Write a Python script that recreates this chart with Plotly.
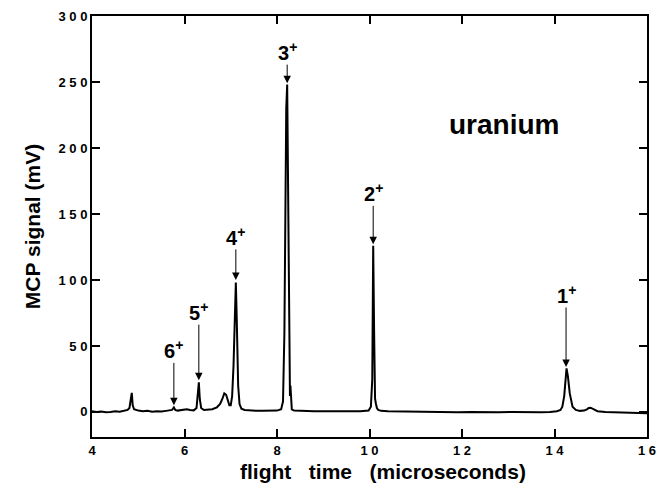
import plotly.graph_objects as go

# flight time (microseconds) and MCP signal (mV)
time_us = [4.00, 4.10, 4.20, 4.30, 4.40, 4.50, 4.60, 4.70, 4.77, 4.81, 4.84, 4.86, 4.88, 4.91,
           5.00, 5.10, 5.20, 5.30, 5.40, 5.50, 5.60, 5.68, 5.73, 5.77, 5.80, 5.85, 5.95, 6.05,
           6.12, 6.20, 6.26, 6.29, 6.31, 6.33, 6.36, 6.42, 6.50, 6.60, 6.70, 6.77, 6.82, 6.86,
           6.90, 6.94, 6.97, 7.00, 7.03, 7.06, 7.09, 7.11, 7.13, 7.16, 7.19, 7.23, 7.30, 7.40,
           7.55, 7.70, 7.85, 8.00, 8.09, 8.13, 8.16, 8.18, 8.20, 8.22, 8.24, 8.26, 8.28, 8.29,
           8.30, 8.32, 8.37, 8.47, 8.60, 8.80, 9.00, 9.20, 9.40, 9.60, 9.80, 9.98, 10.03, 10.06,
           10.08, 10.10, 10.12, 10.14, 10.16, 10.19, 10.25, 10.40, 10.70, 11.00, 11.30, 11.60,
           11.90, 12.20, 12.50, 12.80, 13.10, 13.40, 13.70, 13.90, 14.05, 14.13, 14.17, 14.21,
           14.24, 14.26, 14.29, 14.33, 14.39, 14.46, 14.55, 14.64, 14.70, 14.74, 14.78, 14.84,
           14.93, 15.10, 15.30, 15.50, 15.70, 15.90, 16.00]
signal_mv = [0.5, 0.0, 0.3, -0.3, 0.0, 0.5, 0.2, 1.0, 1.5, 3.0, 10.0, 14.5, 5.0, 2.0,
             1.0, 0.5, 0.8, 0.2, 0.5, 0.3, 0.8, 1.0, 1.5, 3.5, 1.5, 1.0, 1.5, 2.0,
             1.5, 1.2, 3.0, 12.0, 22.5, 10.0, 3.0, 1.5, 1.5, 2.0, 3.5, 6.0, 10.0, 14.0,
             13.0, 8.0, 5.0, 5.0, 12.0, 35.0, 80.0, 98.0, 70.0, 20.0, 6.0, 2.5, 1.5, 1.0,
             0.8, 0.8, 0.8, 1.0, 2.0, 8.0, 60.0, 160.0, 230.0, 248.0, 150.0, 40.0, 12.0, 20.0,
             8.0, 2.0, 1.0, 0.8, 0.8, 0.5, 0.5, 0.5, 0.3, 0.5, 0.5, 1.0, 4.0, 25.0,
             126.0, 60.0, 10.0, 6.0, 3.0, 1.5, 0.8, 0.5, 0.3, 0.2, 0.0, 0.0,
             -0.2, 0.0, -0.3, -0.2, 0.0, -0.3, -0.2, 0.0, 0.5, 1.5, 4.0, 12.0,
             30.0, 33.0, 27.0, 14.0, 4.0, 1.5, 0.8, 1.0, 2.0, 3.0, 3.2, 2.0,
             0.5, 0.0, -0.3, -0.5, -0.8, -1.0, -1.0]

# ion labels: text, peak time, arrow tip, label position (arrow runs from label to tip)
ion_labels = ["6<sup>+</sup>", "5<sup>+</sup>", "4<sup>+</sup>", "3<sup>+</sup>", "2<sup>+</sup>", "1<sup>+</sup>"]
ion_time = [5.77, 6.31, 7.11, 8.22, 10.08, 14.25]
arrow_tip = [5, 24, 100, 249, 127, 34]
label_y = [47, 76, 133, 273, 166, 89]

xticks = [4, 6, 8, 10, 12, 14, 16]
yticks = [0, 50, 100, 150, 200, 250, 300]

FONT = "Liberation Sans, Arial, Helvetica"

fig = go.Figure()
fig.add_trace(go.Scatter(x=time_us, y=signal_mv, mode="lines",
                         line=dict(color="black", width=2), showlegend=False,
                         hoverinfo="skip"))

ann = []
for t, tip, ly, lab in zip(ion_time, arrow_tip, label_y, ion_labels):
    ann.append(dict(x=t, y=tip, ax=t, ay=ly, xref="x", yref="y", axref="x", ayref="y",
                    text="<b>" + lab + "</b>", showarrow=True, arrowhead=2, arrowsize=1.5,
                    arrowwidth=1, arrowcolor="black", standoff=0, borderpad=0,
                    font=dict(family=FONT, size=20, color="black")))
ann.append(dict(x=12.91, y=218, xref="x", yref="y", text="<b>uranium</b>", showarrow=False,
                font=dict(family=FONT, size=28, color="black"),
                xanchor="center", yanchor="middle"))
# x-axis title (placed slightly right of centre, as in the original)
ann.append(dict(x=0.524, y=-0.081, xref="paper", yref="paper",
                text="<b>flight   time   (microseconds)</b>", showarrow=False,
                font=dict(family=FONT, size=21, color="black"),
                xanchor="center", yanchor="middle"))

tickfont = dict(family=FONT, size=13, color="black")
fig.update_layout(
    width=657, height=490,
    margin=dict(l=92, r=10, t=16, b=53),
    plot_bgcolor="white", paper_bgcolor="white",
    annotations=ann,
    xaxis=dict(range=[4, 16], tickvals=xticks,
               ticktext=["<b>" + " ".join(str(v)) + "</b>" for v in xticks],
               ticks="inside", ticklen=8, tickwidth=2, tickcolor="black",
               showline=True, linecolor="black", linewidth=2, mirror="ticks",
               showgrid=False, zeroline=False, tickfont=tickfont,
               ticklabeloverflow="allow", automargin=False),
    yaxis=dict(range=[-19, 300], tickvals=yticks,
               ticktext=["<b>" + " ".join(str(v)) + "</b>" for v in yticks],
               ticks="inside", ticklen=8, tickwidth=2, tickcolor="black",
               showline=True, linecolor="black", linewidth=2, mirror="ticks",
               showgrid=False, zeroline=False, tickfont=tickfont, automargin=False,
               title=dict(text="<b>MCP signal (mV)</b>",
                          font=dict(family=FONT, size=21, color="black"),
                          standoff=12)),
)
fig.write_html("out.html")
